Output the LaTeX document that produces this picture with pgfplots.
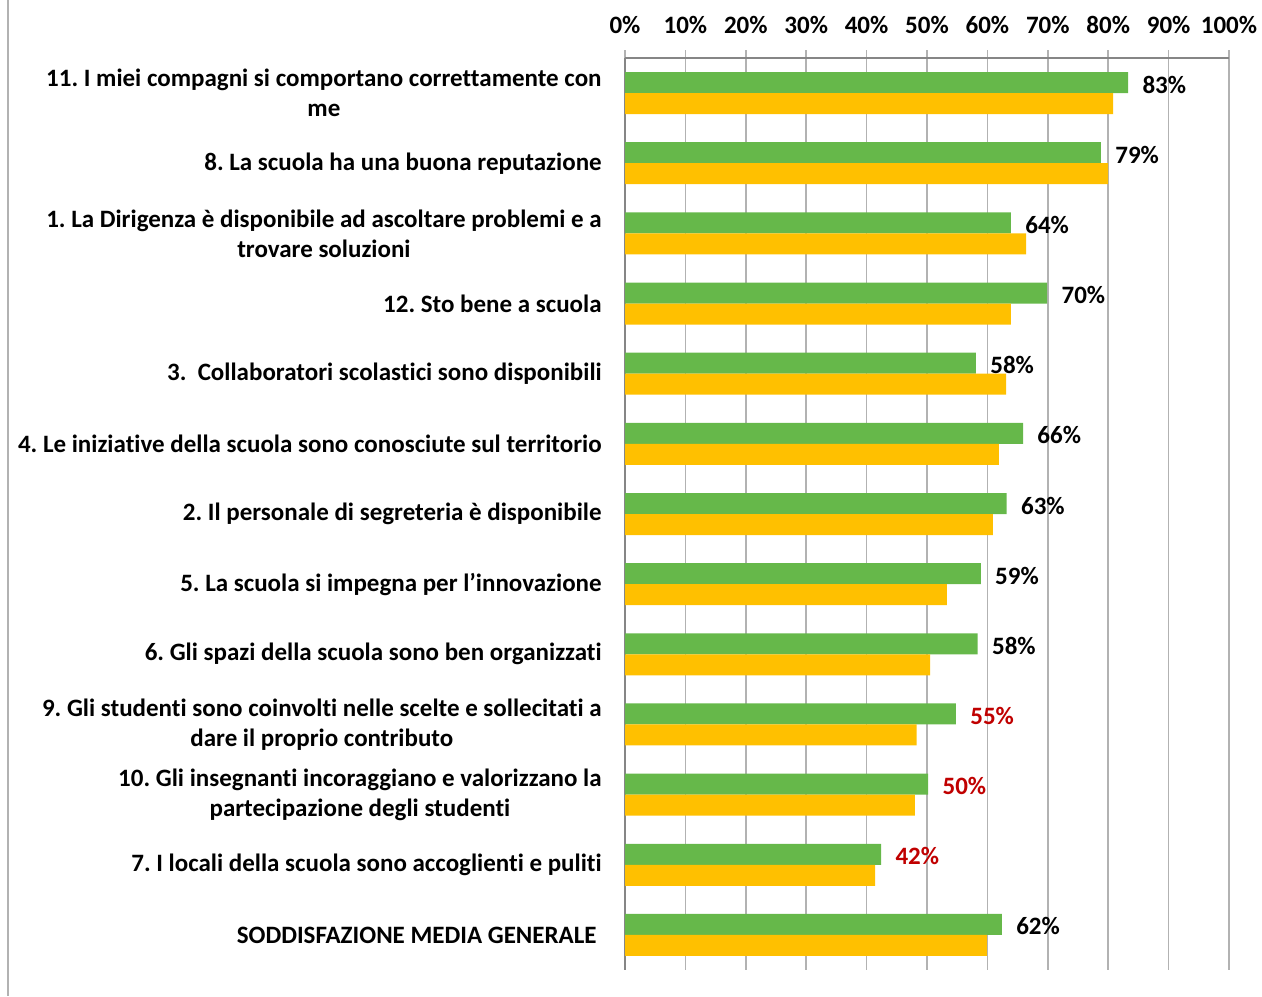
\documentclass[border=0pt]{standalone}
\usepackage{pgfplots}
\pgfplotsset{compat=1.18}
\usepackage{fontspec}
\setmainfont{Carlito}[Ligatures=NoCommon]
\definecolor{gbar}{RGB}{102,184,74}
\definecolor{ybar}{RGB}{255,192,0}
\definecolor{rlab}{RGB}{192,0,0}
\definecolor{gridc}{RGB}{178,178,178}
\definecolor{axc}{RGB}{134,134,134}
\pgfkeys{/pgf/number format/assume math mode=true}
\newcommand{\lf}{\fontsize{12.5}{15}\selectfont\bfseries}
\frenchspacing
\begin{document}
\begin{tikzpicture}
\path[use as bounding box] (0pt,0pt) rectangle (631pt,-498pt);
\draw[gridc, line width=1.2pt] (4pt,0pt) -- (4pt,-498pt);
\begin{axis}[
  at={(312.5pt,-29pt)}, anchor=north west,
  scale only axis, width=302pt, height=456pt,
  xmin=0, xmax=100, ymin=-0.5, ymax=12.5, y dir=reverse,
  axis x line*=top, axis y line*=left,
  xtick={0,10,...,100},
  xticklabel={\pgfmathprintnumber{\tick}\%},
  xticklabel style={font=\fontsize{12.5}{14}\selectfont\bfseries, yshift=4.5pt},
  xmajorgrids, grid style={gridc, line width=0.8pt},
  axis line style={axc, line width=0.8pt},
  tick align=outside, major tick length=4pt,
  xtick style={gridc, line width=0.8pt},
  ytick={0,...,12},
  ytick style={draw=none},
  yticklabels={
    {11. I miei compagni si comportano correttamente con\\me},
    {8. La scuola ha una buona reputazione},
    {1. La Dirigenza è disponibile ad ascoltare problemi e a\\trovare soluzioni},
    {12. Sto bene a scuola},
    {3.\ \ Collaboratori scolastici sono disponibili},
    {4. Le iniziative della scuola sono conosciute sul territorio},
    {2. Il personale di segreteria è disponibile},
    {5. La scuola si impegna per l’innovazione},
    {6. Gli spazi della scuola sono ben organizzati},
    {9. Gli studenti sono coinvolti nelle scelte e sollecitati a\\dare il proprio contributo},
    {10. Gli insegnanti incoraggiano e valorizzano la\\partecipazione degli studenti},
    {7. I locali della scuola sono accoglienti e puliti},
    {SODDISFAZIONE MEDIA GENERALE\hspace{2.5pt}}
  },
  yticklabel style={align=center, font=\lf, inner sep=0pt, xshift=-7.5pt},
  xbar, bar width=10.5pt,
]
% green, black labels
\addplot[draw=none, fill=gbar, bar shift=5.25pt,
  point meta=x,
  nodes near coords={\pgfmathprintnumber[fixed,precision=0]{\pgfplotspointmeta}\%},
  nodes near coords style={anchor=west, font=\lf, text=black, inner sep=0pt, xshift=7pt, yshift=-1pt}]
  coordinates {(83.3,0) (78.8,1) (63.9,2) (69.9,3) (58.1,4) (65.9,5) (63.2,6) (58.9,7) (58.4,8) (62.4,12)};
% green, red labels
\addplot[draw=none, fill=gbar, bar shift=5.25pt,
  point meta=x,
  nodes near coords={\pgfmathprintnumber[fixed,precision=0]{\pgfplotspointmeta}\%},
  nodes near coords style={anchor=west, font=\lf, text=rlab, inner sep=0pt, xshift=7pt, yshift=-1pt}]
  coordinates {(54.8,9) (50.2,10) (42.4,11)};
% yellow
\addplot[draw=none, fill=ybar, bar shift=-5.25pt]
  coordinates {(80.8,0) (80.0,1) (66.4,2) (63.9,3) (63.1,4) (61.9,5) (60.9,6) (53.3,7) (50.5,8) (48.3,9) (48.0,10) (41.4,11) (59.9,12)};
\end{axis}
\end{tikzpicture}
\end{document}
